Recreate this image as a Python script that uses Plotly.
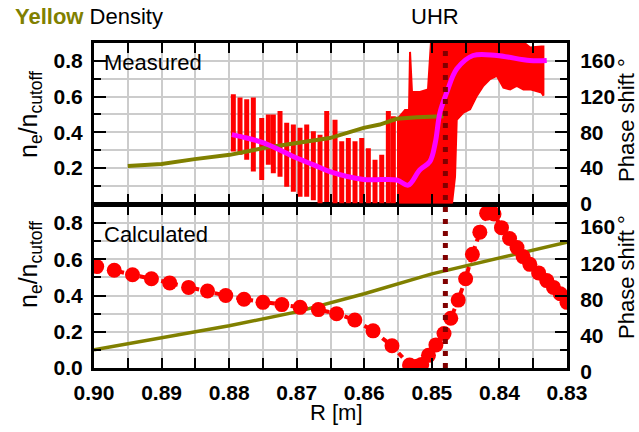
import plotly.graph_objects as go

# ---------------- data ----------------
# Measured: scattered phase samples, one vertical stripe per sweep position
stripe_r = [0.87938, 0.87839, 0.87740, 0.87642, 0.87518, 0.87420, 0.87346, 0.87247,
            0.87148, 0.87050, 0.86951, 0.86852, 0.86754, 0.86655, 0.86556, 0.86433,
            0.86334, 0.86236, 0.86137, 0.86038, 0.85940, 0.85841, 0.85742, 0.85644,
            0.85570]
stripe_lo = [58.4, 54.7, 49.0, 35.8, 26.4, 43.4, 34.0, 30.0, 18.8, 13.1, 7.5, 7.5,
             3.7, 0.0, 1.8, 0.0, 0.0, 0.0, 0.0, 0.0, 0.0, 0.0, 0.0, 0.0, 0.0]
stripe_hi = [122.6, 118.9, 117.0, 119.0, 96.0, 99.7, 99.7, 103.7, 90.6, 88.6, 85.0,
             88.6, 81.0, 77.0, 103.7, 94.0, 69.8, 73.6, 69.8, 73.6, 62.0, 49.0, 54.7,
             103.7, 98.0]

# Measured: dense region near the upper hybrid layer (envelope of the samples)
band_r = [0.85516, 0.85397, 0.85338, 0.85323, 0.85294, 0.85175, 0.85057, 0.85013,
          0.84702, 0.84657, 0.84632, 0.84533, 0.84434, 0.84335, 0.84237, 0.84138,
          0.84039, 0.83941, 0.83842, 0.83744, 0.83645, 0.83546, 0.83448, 0.83378,
          0.83349]
band_lo = [0.0, 0.0, 0.0, 0.0, 0.0, 0.0, 0.0, 0.0, 0.0, 30.0, 94.0, 102.0, 105.6,
           120.7, 132.0, 139.6, 143.3, 130.0, 128.0, 132.0, 128.0, 128.0, 126.0,
           124.5, 121.0]
band_hi = [94.0, 105.0, 105.0, 170.0, 125.0, 125.0, 128.0, 181.0, 181.0, 181.0,
           181.0, 181.0, 181.0, 181.0, 181.0, 181.0, 181.0, 181.0, 181.0, 181.0,
           181.0, 175.0, 176.0, 176.0, 176.0]

# Measured: smoothed phase shift
meas_phase_r = [0.8796, 0.8774, 0.8749, 0.8725, 0.8700, 0.8675, 0.8651, 0.8601,
                0.8552, 0.8535, 0.8518, 0.8503, 0.8495, 0.8488, 0.8478, 0.8463,
                0.8439, 0.8404, 0.8355, 0.8330]
meas_phase = [77.3, 73.5, 68.0, 60.0, 51.0, 43.4, 35.8, 27.0, 26.4, 20.7, 37.7,
              47.0, 68.0, 102.0, 124.5, 151.0, 166.0, 166.0, 160.4, 160.4]

# Measured: density profile
meas_dens_r = [0.8950, 0.8900, 0.8851, 0.8799, 0.8749, 0.8705, 0.8651, 0.8601,
               0.8577, 0.8552, 0.8522, 0.8483]
meas_dens = [0.210, 0.222, 0.249, 0.273, 0.311, 0.334, 0.367, 0.424, 0.443, 0.475,
             0.484, 0.490]

# Calculated: density profile
calc_dens_r = [0.900, 0.890, 0.880, 0.870, 0.860, 0.850, 0.840, 0.830]
calc_dens = [0.100, 0.167, 0.233, 0.310, 0.410, 0.520, 0.610, 0.695]

# Calculated: phase shift
calc_phase_r = [0.8996, 0.8970, 0.8943, 0.8915, 0.8888, 0.8860, 0.8832, 0.8805,
                0.8778, 0.8750, 0.8722, 0.8695, 0.8668, 0.8641, 0.8614, 0.8587,
                0.8559, 0.8533, 0.8522, 0.8515, 0.8505, 0.8494, 0.8482, 0.8472,
                0.8461, 0.8450, 0.8440, 0.8429, 0.8419, 0.8408, 0.8397, 0.8385,
                0.8374, 0.8365, 0.8355, 0.8342, 0.8330, 0.8320, 0.8310, 0.8300]
calc_phase = [112.0, 108.0, 103.0, 98.5, 94.0, 89.0, 85.0, 80.0, 76.0, 72.5, 70.0,
              67.0, 64.5, 60.0, 53.0, 41.0, 24.5, 3.3, 2.0, 4.0, 14.0, 25.5, 38.0,
              55.0, 75.0, 98.5, 125.5, 150.0, 171.0, 170.0, 155.0, 143.0, 133.0,
              123.0, 114.5, 105.0, 96.5, 89.0, 82.0, 72.5]

uhr_r = 0.8480

x_tickvals = [0.900, 0.895, 0.890, 0.885, 0.880, 0.875, 0.870, 0.865, 0.860,
              0.855, 0.850, 0.845, 0.840, 0.835, 0.830]
x_ticktext = ["0.90", "", "0.89", "", "0.88", "", "0.87", "", "0.86", "", "0.85",
              "", "0.84", "", "0.83"]

# ---------------- styling ----------------
FONT = "Liberation Sans, Arial, sans-serif"
OLIVE = "#808000"
RED = "#ff0000"
MAGENTA = "#ff00ff"
DARKRED = "#800000"
GRID = "#cccccc"
tickfont = dict(family=FONT, size=21, color="black", weight="bold")

fig = go.Figure()

# ----- top panel (Measured) -----
sx, sy = [], []
for r, lo, hi in zip(stripe_r, stripe_lo, stripe_hi):
    sx += [r, r, None]
    sy += [lo, hi, None]
fig.add_trace(go.Scatter(x=sx, y=sy, mode="lines", line=dict(color=RED, width=5),
                         xaxis="x2", yaxis="y3", hoverinfo="skip", showlegend=False))
fig.add_trace(go.Scatter(x=band_r + band_r[::-1], y=band_hi + band_lo[::-1],
                         mode="lines", fill="toself", fillcolor=RED,
                         line=dict(color=RED, width=2),
                         xaxis="x2", yaxis="y3", hoverinfo="skip", showlegend=False))
fig.add_trace(go.Scatter(x=meas_dens_r, y=meas_dens, mode="lines",
                         line=dict(color=OLIVE, width=4),
                         xaxis="x2", yaxis="y4", showlegend=False))
fig.add_trace(go.Scatter(x=meas_phase_r, y=meas_phase, mode="lines",
                         line=dict(color=MAGENTA, width=5, shape="spline"),
                         xaxis="x2", yaxis="y5", showlegend=False))

# ----- bottom panel (Calculated) -----
fig.add_trace(go.Scatter(x=calc_dens_r, y=calc_dens, mode="lines",
                         line=dict(color=OLIVE, width=3.5),
                         xaxis="x", yaxis="y", showlegend=False))
fig.add_trace(go.Scatter(x=calc_phase_r, y=calc_phase, mode="lines+markers",
                         line=dict(color=RED, width=4, dash="6px,5px"),
                         marker=dict(color=RED, size=15),
                         xaxis="x", yaxis="y2", showlegend=False))

# UHR position across both panels
fig.add_shape(type="line", xref="x", yref="paper", x0=uhr_r, x1=uhr_r, y0=0, y1=0.985,
              line=dict(color=DARKRED, width=5, dash="5px,7px"), layer="above")

xcommon = dict(range=[0.90, 0.83], tickvals=x_tickvals, showgrid=True,
               gridcolor=GRID, gridwidth=1.5, ticks="inside", ticklen=10,
               tickwidth=2, tickcolor="black", showline=True, linecolor="black",
               linewidth=3, mirror="ticks", zeroline=False)
ycommon_left = dict(range=[0, 0.9], showgrid=True, gridcolor=GRID, gridwidth=1.5,
                    ticks="inside", ticklen=12, tickwidth=2, tickcolor="black",
                    showline=True, linecolor="black", linewidth=3, zeroline=False,
                    tickfont=tickfont, tickformat=".1f", ticklabelstandoff=4,
                    minor=dict(dtick=0.1, tick0=0, ticks="inside", ticklen=7,
                               tickwidth=2, tickcolor="black", showgrid=True,
                               gridcolor=GRID, gridwidth=1.5))
ycommon_right = dict(range=[0, 180], showgrid=False, ticks="inside", ticklen=12,
                     tickwidth=2, tickcolor="black", showline=True,
                     linecolor="black", linewidth=3, zeroline=False,
                     tickfont=tickfont, tickvals=[0, 40, 80, 120, 160],
                     ticklabelstandoff=6,
                     minor=dict(dtick=20, tick0=0, ticks="inside", ticklen=7,
                                tickwidth=2, tickcolor="black", showgrid=False))

BOT = [0, 0.5015]
TOP = [0.506, 1]

fig.update_layout(
    width=639, height=432,
    margin=dict(l=94, r=72, t=43, b=64),
    paper_bgcolor="white", plot_bgcolor="white",
    font=dict(family=FONT, color="black"),
    xaxis=dict(**xcommon, anchor="y", domain=[0, 1], ticktext=x_ticktext,
               tickfont=tickfont, ticklabelstandoff=4),
    xaxis2=dict(**xcommon, anchor="y3", domain=[0, 1], matches="x",
                showticklabels=False),
    yaxis=dict(**ycommon_left, domain=BOT, anchor="x", side="left",
               tickvals=[0, 0.2, 0.4, 0.6, 0.8]),
    yaxis2=dict(**ycommon_right, overlaying="y", anchor="x", side="right",
                ticklabelshift=4),
    yaxis3=dict(**ycommon_right, domain=TOP, anchor="x2", side="right"),
    yaxis4=dict(**ycommon_left, overlaying="y3", anchor="x2", side="left",
                tickvals=[0.2, 0.4, 0.6, 0.8]),
    yaxis5=dict(range=[0, 180], overlaying="y3", anchor="x2", visible=False),
)

def px_x(p):
    return (p - 94) / 473.0

def px_y(p):
    return (368 - p) / 325.0

annos = [
    dict(text="<span style='color:#808000'><b>Yellow</b></span> Density",
         x=px_x(13), y=px_y(16), xanchor="left", yanchor="middle", size=22),
    dict(text="UHR", x=px_x(435), y=px_y(17), xanchor="center", yanchor="middle", size=22),
    dict(text="Measured", x=px_x(102), y=px_y(62), xanchor="left", yanchor="middle", size=22),
    dict(text="Calculated", x=px_x(102), y=px_y(234), xanchor="left", yanchor="middle", size=22),
    dict(text="R [m]", x=px_x(336), y=px_y(412), xanchor="center", yanchor="middle", size=22),
]
for a in annos:
    fig.add_annotation(text=a["text"], x=a["x"], y=a["y"], xref="paper", yref="paper",
                       xanchor=a["xanchor"], yanchor=a["yanchor"], showarrow=False,
                       font=dict(family=FONT, size=a["size"], color="black"))

# rotated axis titles
for yc in (115, 265):
    fig.add_annotation(text="n<sub>e</sub>/n<sub>cutoff</sub>", x=px_x(30), y=px_y(yc),
                       xref="paper", yref="paper", textangle=-90, showarrow=False,
                       xanchor="center", yanchor="middle",
                       font=dict(family=FONT, size=25, color="black"))
for yc in (120, 277):
    fig.add_annotation(text="Phase shift °", x=px_x(626), y=px_y(yc),
                       xref="paper", yref="paper", textangle=-90, showarrow=False,
                       xanchor="center", yanchor="middle",
                       font=dict(family=FONT, size=22, color="black"))

fig.write_html("out.html")
